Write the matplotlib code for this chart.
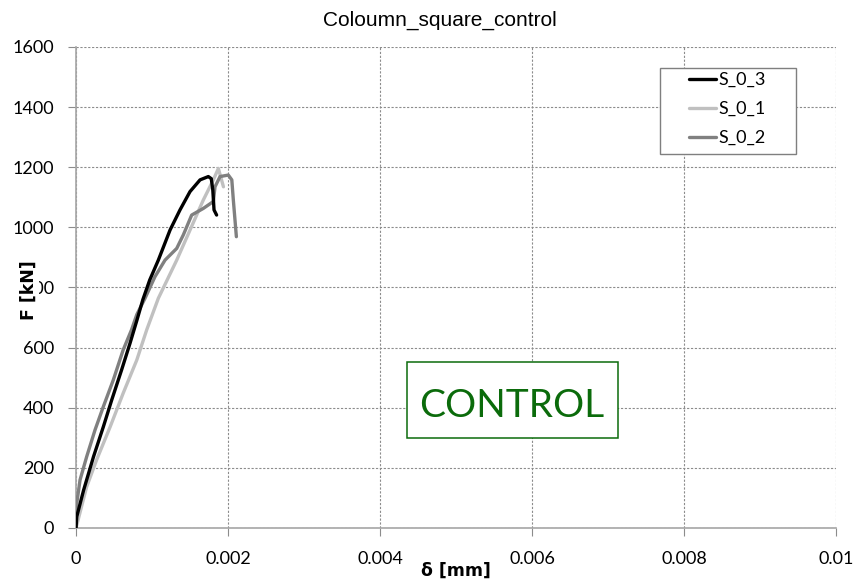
import matplotlib
matplotlib.use("Agg")
import matplotlib.pyplot as plt
from matplotlib.patches import Rectangle
from matplotlib.ticker import FixedLocator

# Load-displacement test records (displacement in mm, force in kN)
s03_x = [0.0, 0.00001, 0.00010, 0.00023, 0.00036, 0.00047, 0.00060, 0.00071, 0.00080,
         0.00088, 0.00097, 0.001083, 0.001237, 0.001368, 0.00150, 0.001632, 0.001741,
         0.00178, 0.00180, 0.001816, 0.00185]
s03_f = [0, 38, 126, 237, 337, 426, 526, 614, 690,
         760, 825, 891, 991, 1058, 1119, 1158, 1169,
         1162, 1124, 1058, 1041]

s01_x = [0.0, 0.00014, 0.00027, 0.00045, 0.00062, 0.00080, 0.00093, 0.001083,
         0.001325, 0.00150, 0.001675, 0.001807, 0.001873, 0.00194]
s01_f = [0, 137, 226, 337, 448, 559, 659, 764,
         891, 991, 1091, 1158, 1196, 1135]

s02_x = [0.0, 0.00001, 0.000053, 0.00014, 0.00025, 0.00036, 0.00049, 0.00062, 0.00073,
         0.00080, 0.000908, 0.001039, 0.001171, 0.001325, 0.001412, 0.001522, 0.001675,
         0.001807, 0.001829, 0.001895, 0.002004, 0.00205, 0.00207, 0.00211]
s02_f = [0, 82, 160, 237, 326, 404, 492, 592, 659,
         710, 764, 836, 891, 930, 975, 1041, 1063,
         1086, 1135, 1169, 1174, 1158, 1091, 969]

x_ticks = [0, 0.002, 0.004, 0.006, 0.008, 0.01]
x_tick_labels = ["0", "0.002", "0.004", "0.006", "0.008", "0.01"]
y_ticks = [0, 200, 400, 600, 800, 1000, 1200, 1400, 1600]

tick_font = "Lato"
green = "#0b6b0b"

fig = plt.figure(figsize=(8.57, 5.86), dpi=100)
ax = fig.add_axes([0.0887, 0.099, 0.8868, 0.8208])

ax.plot(s03_x, s03_f, color="black", lw=2.4, label="S_0_3", solid_capstyle="round",
        solid_joinstyle="round", zorder=4)
ax.plot(s01_x, s01_f, color="#c0c0c0", lw=2.4, label="S_0_1", solid_capstyle="round",
        solid_joinstyle="round", zorder=3)
ax.plot(s02_x, s02_f, color="#808080", lw=2.4, label="S_0_2", solid_capstyle="round",
        solid_joinstyle="round", zorder=3)

ax.set_xlim(0, 0.01)
ax.set_ylim(0, 1600)
ax.xaxis.set_major_locator(FixedLocator(x_ticks))
ax.set_xticklabels(x_tick_labels)
ax.yaxis.set_major_locator(FixedLocator(y_ticks))

ax.grid(True, color="#8c8c8c", ls=(0, (2, 1.5)), lw=0.8)
ax.set_axisbelow(True)
for side in ("top", "right"):
    ax.spines[side].set_visible(False)
for side in ("left", "bottom"):
    ax.spines[side].set_color("#a6a6a6")
    ax.spines[side].set_linewidth(1.2)

ax.tick_params(axis="both", direction="out", length=5.8, width=0.8, color="#8c8c8c",
               labelsize=13)
ax.tick_params(axis="y", pad=10)
ax.tick_params(axis="x", pad=11)
for lbl in ax.get_xticklabels() + ax.get_yticklabels():
    lbl.set_fontfamily(tick_font)

fig.text(0.5134, 1 - 26 / 586, "Coloumn_square_control", ha="center", va="baseline",
         fontsize=15, family="Liberation Sans")

ax.set_xlabel("δ [mm]", fontsize=12.5, fontweight="bold", family="DejaVu Sans")
ax.xaxis.set_label_coords(0.5, -0.07)
ax.xaxis.label.set_verticalalignment("top")
ylab = ax.set_ylabel("F [kN]", fontsize=12.5, fontweight="bold", family="DejaVu Sans")
ax.yaxis.set_label_coords(-0.05, 0.4948)
ylab.set_bbox(dict(facecolor="white", edgecolor="none", pad=0.5))
ylab.set_zorder(10)

# Legend with a wide rectangular frame
leg = ax.legend(loc="center", bbox_to_anchor=(0.857, 0.871), frameon=False,
                handlelength=1.5, handletextpad=0.1, borderpad=0.0, labelspacing=0.72,
                prop={"family": tick_font, "size": 13})
ax.add_patch(Rectangle((0.7684, 0.7775), 0.9470 - 0.7684, 0.9557 - 0.7775,
                       transform=ax.transAxes, facecolor="white", edgecolor="#7f7f7f",
                       lw=1.0, zorder=5))
leg.set_zorder(6)

# Annotation box
ax.add_patch(Rectangle((0.4355, 0.1871), 0.7132 - 0.4355, 0.3451 - 0.1871,
                       transform=ax.transAxes, facecolor="white", edgecolor=green,
                       lw=1.1, zorder=5))
ax.text(0.5737, 0.2308, "CONTROL", transform=ax.transAxes, ha="center", va="baseline",
        fontsize=28, color=green, family=tick_font, zorder=6)

fig.savefig("out.png", dpi=100)
